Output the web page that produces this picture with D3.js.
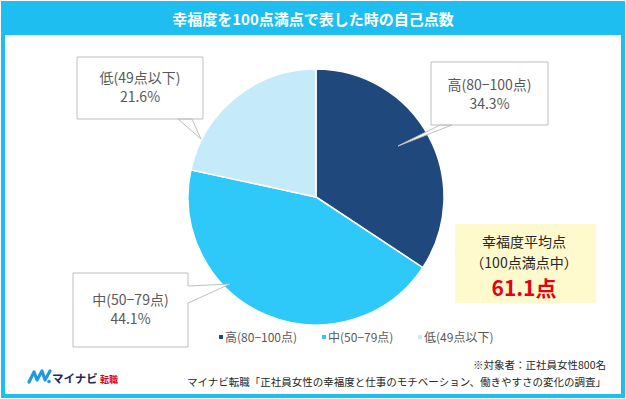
<!DOCTYPE html>
<html>
<head>
<meta charset="UTF-8">
<script src="https://cdn.jsdelivr.net/npm/d3@7"></script>
<style>
  body { margin:0; background:#fff; font-family:"Noto Sans CJK JP","Noto Sans",sans-serif; }
</style>
</head>
<body>
<svg id="chart" width="626" height="399"></svg>
<script>
// 幸福度の区分と割合
var labels = ["高（80−100点）", "中（50−79点）", "低（49点以下）"];
var boxLabels = ["高(80−100点)", "中(50−79点)", "低(49点以下)"];
var values = [34.3, 44.1, 21.6];
var colors = ["#1f497d", "#2ec9f8", "#c5ebfb"];
var avgLines = ["幸福度平均点", "（100点満点中）"];
var avgValue = "61.1点";
var noteLines = ["※対象者：正社員女性800名", "マイナビ転職「正社員女性の幸福度と仕事のモチベーション、働きやすさの変化の調査」"];

var svg = d3.select("#chart");
var frame = "#1ebff0";

// 外枠とタイトル帯
svg.append("rect").attr("x", 3).attr("y", 3).attr("width", 620).attr("height", 393)
  .attr("fill", "#fff").attr("stroke", frame).attr("stroke-width", 4);
svg.append("rect").attr("x", 3).attr("y", 3).attr("width", 620).attr("height", 32).attr("fill", frame);
svg.append("text").attr("x", 313).attr("y", 25).attr("text-anchor", "middle")
  .attr("fill", "#fff").attr("font-size", 15).attr("font-weight", "bold")
  .text("幸福度を100点満点で表した時の自己点数");

// 円グラフ
var cx = 316, cy = 197, r = 128;
var pie = d3.pie().sort(null).value(function(d){ return d; });
var arc = d3.arc().innerRadius(0).outerRadius(r);
var g = svg.append("g").attr("transform", "translate(" + cx + "," + cy + ")");
g.selectAll("path.slice").data(pie(values)).enter().append("path")
  .attr("class", "slice")
  .attr("d", arc)
  .attr("fill", function(d, i){ return colors[i]; })
  .attr("stroke", "#fff").attr("stroke-width", 1.5);

// 吹き出し
function callout(x, y, w, h, side, a, b, tx, ty) {
  var p;
  if (side === "bottom") {
    p = "M" + x + "," + y + "H" + (x + w) + "V" + (y + h) + "H" + b + "L" + tx + "," + ty + "L" + a + "," + (y + h) + "H" + x + "Z";
  } else {
    p = "M" + x + "," + y + "H" + (x + w) + "V" + a + "L" + tx + "," + ty + "L" + (x + w) + "," + b + "V" + (y + h) + "H" + x + "Z";
  }
  svg.append("path").attr("d", p).attr("fill", "#fff").attr("stroke", "#bfbfbf").attr("stroke-width", 1);
}
var boxes = [
  {x:431, y:62, w:117, h:63, side:"bottom", a:452, b:440, tx:398, ty:146, ly:90},
  {x:73, y:273, w:115, h:74, side:"right", a:286, b:303, tx:230, ty:284, ly:305},
  {x:77, y:57, w:126, h:62, side:"bottom", a:192, b:178, tx:201, ty:139, ly:83}
];
boxes.forEach(function(bx, i){
  callout(bx.x, bx.y, bx.w, bx.h, bx.side, bx.a, bx.b, bx.tx, bx.ty);
  var t = svg.append("text").attr("text-anchor", "middle").attr("fill", "#595959").attr("font-size", 14);
  t.append("tspan").attr("x", bx.x + bx.w / 2).attr("y", bx.ly).text(boxLabels[i]);
  t.append("tspan").attr("x", bx.x + bx.w / 2).attr("y", bx.ly + 19).text(values[i].toFixed(1) + "%");
});

// 平均点ボックス
svg.append("rect").attr("x", 455).attr("y", 224).attr("width", 141).attr("height", 79).attr("fill", "#fffacd");
svg.selectAll("text.avg").data(avgLines).enter().append("text").attr("class", "avg")
  .attr("x", 524).attr("y", function(d, i){ return 247 + i * 21; })
  .attr("text-anchor", "middle").attr("font-size", 14).attr("fill", "#262626")
  .text(function(d){ return d; });
svg.append("text").attr("x", 524).attr("y", 296).attr("text-anchor", "middle")
  .attr("font-size", 21).attr("font-weight", "bold").attr("fill", "#e60012").text(avgValue);

// 凡例
var lx = [219, 322, 418];
var leg = svg.selectAll("g.leg").data(labels).enter().append("g").attr("class", "leg")
  .attr("transform", function(d, i){ return "translate(" + lx[i] + ",337)"; });
leg.append("rect").attr("x", 0).attr("y", -2).attr("width", 4).attr("height", 4)
  .attr("fill", function(d, i){ return colors[i]; });
leg.append("text").attr("x", 6).attr("y", 4.5).attr("font-size", 12).attr("fill", "#595959")
  .text(function(d, i){ return boxLabels[i]; });

// 注記
svg.selectAll("text.note").data(noteLines).enter().append("text").attr("class", "note")
  .attr("x", 606).attr("y", function(d, i){ return 369 + i * 17; })
  .attr("text-anchor", "end").attr("font-size", 10.5).attr("fill", "#262626")
  .text(function(d){ return d; });

// ロゴ
var logo = svg.append("g").attr("transform", "translate(28,368)");
logo.append("path").attr("d", "M1,14 L6,4 L9,12 L14,3 L17,12 L22,3")
  .attr("fill", "none").attr("stroke", "#1e9be0").attr("stroke-width", 3.2).attr("stroke-linecap", "round").attr("stroke-linejoin", "round");
logo.append("circle").attr("cx", 21).attr("cy", 13.5).attr("r", 1.8).attr("fill", "#1e9be0");
logo.append("text").attr("x", 24).attr("y", 15).attr("font-size", 11.5).attr("font-weight", "bold")
  .attr("fill", "#1d2c5c").text("マイナビ");
logo.append("text").attr("x", 72).attr("y", 15).attr("font-size", 9).attr("font-weight", "bold")
  .attr("fill", "#e60012").text("転職");
</script>
</body>
</html>
